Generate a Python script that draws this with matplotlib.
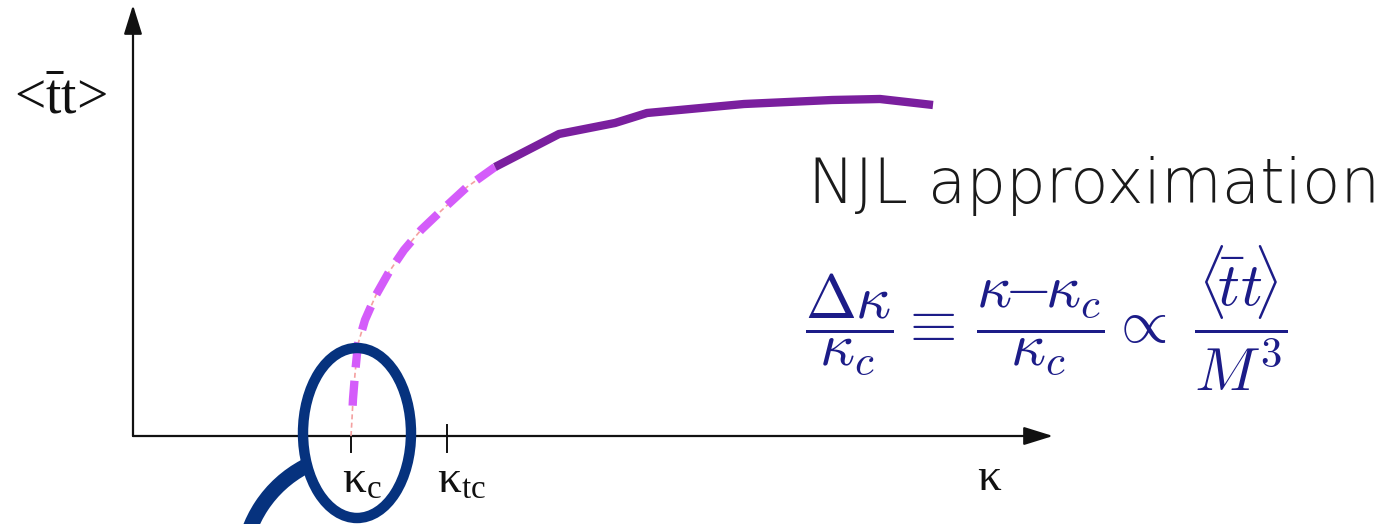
import matplotlib
matplotlib.use("Agg")
import matplotlib.pyplot as plt
from matplotlib.patches import FancyArrowPatch, Ellipse, Arc

plt.rcParams['mathtext.fontset'] = 'custom'
plt.rcParams['mathtext.rm'] = 'Liberation Serif'
plt.rcParams['mathtext.it'] = 'Liberation Serif:italic'

# schematic order parameter vs coupling kappa (arbitrary units, origin at axis crossing)
kappa_c = 218
kappa_tc = 314
kappa_label = 857

# rising branch just above kappa_c (dashed)
branch_k = [218, 219, 220, 222, 225, 232, 243, 256, 271, 288, 309, 334, 362]
branch_v = [0, 17, 37, 62, 92, 116, 141, 164, 186, 206, 226, 249, 269]

# NJL-like saturating branch (solid)
njl_k = [362, 426, 482, 514, 611, 699, 747, 800]
njl_v = [269, 302, 313, 323, 332, 336, 337, 331]

fig = plt.figure(figsize=(13.84, 5.24), dpi=100)
ax = fig.add_axes([0, 0, 1, 1])
ax.set_xlim(-133, 1251)
ax.set_ylim(-88, 436)
ax.axis('off')

# axes with arrow heads
for tip in [(0, 431), (920, 0)]:
    ax.add_patch(FancyArrowPatch((0, 0), tip, arrowstyle='-|>,head_length=0.9,head_width=0.28',
                                 mutation_scale=20, lw=1.6, color='#111111',
                                 shrinkA=0, shrinkB=0, zorder=2))

# tick marks
ax.plot([kappa_c, kappa_c], [0, -16], color='#111111', lw=1.4)
ax.plot([kappa_tc, kappa_tc], [11, -16], color='#111111', lw=1.4)

# curves
ax.plot(branch_k, branch_v, color='#f4a0a0', lw=1.2, linestyle=(0, (3, 2)), zorder=3)
ax.plot(branch_k[1:], branch_v[1:], color='#d45cfa', lw=6, solid_capstyle='butt',
        dash_capstyle='butt', linestyle=(3.0, (3, 1.6)), zorder=4)
ax.plot(njl_k, njl_v, color='#7a1f9e', lw=6, solid_capstyle='butt', zorder=4)

# labels
ax.text(-119, 336, r'<$\bar{\mathrm{t}}$t>', fontsize=40, family='Liberation Serif',
        ha='left', va='center', color='#111111')
lab = dict(fontsize=34, math_fontfamily='custom', ha='left', va='baseline', color='#111111')
ax.text(kappa_c - 9, -57, r'$\mathrm{κ_c}$', **lab)
ax.text(kappa_tc - 10, -57, r'$\mathrm{κ_{tc}}$', **lab)
ax.text(kappa_label - 13, -54, r'$\mathrm{κ}$', **lab)

ax.text(675, 233, 'NJL approximation', fontsize=45, family='DejaVu Sans', fontweight='light',
        ha='left', va='baseline', color='#1a1a1a')
ax.text(672, 118, r'$\dfrac{\Delta\kappa}{\kappa_c} \equiv\, \dfrac{\kappa\!\!-\!\!\kappa_c}{\kappa_c}'
        r' \propto\; \dfrac{\langle\!\bar{t}t\!\rangle}{M^3}$',
        fontsize=44, math_fontfamily='cm', ha='left', va='center', color='#1c1c88')

# highlight around kappa_c
ax.add_patch(Ellipse((224, 3), 108, 170, fill=False, ec='#06327e', lw=7.5, zorder=5))
ax.add_patch(Arc((227, -135), 236, 236, theta1=118, theta2=175, ec='#06327e', lw=11, zorder=5))

fig.savefig('out.png', dpi=100)
